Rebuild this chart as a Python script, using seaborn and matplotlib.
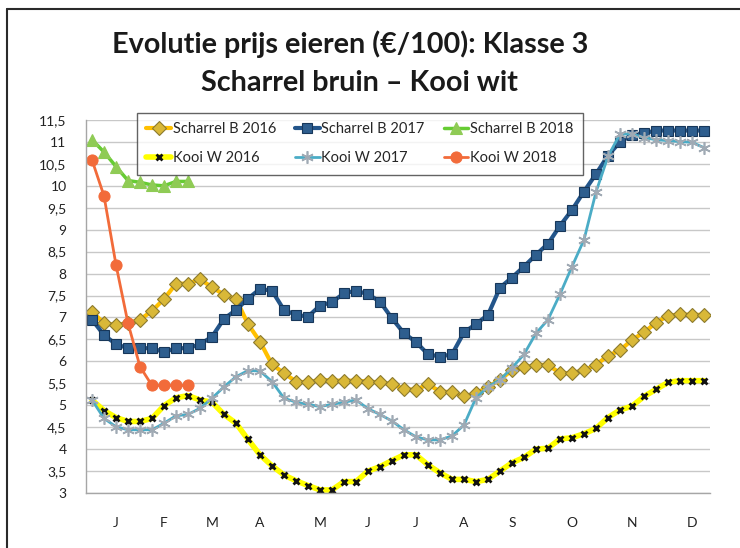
import matplotlib
matplotlib.use("Agg")
import matplotlib.pyplot as plt
from matplotlib.lines import Line2D
import seaborn as sns
import numpy as np

# ---- data ----
weeks = list(range(1, 53))
month_labels = ["J", "F", "M", "A", "M", "J", "J", "A", "S", "O", "N", "D"]
month_weeks = [3, 7, 11, 15, 20, 24, 28, 32, 36, 41, 46, 51]
y_ticks = [3, 3.5, 4, 4.5, 5, 5.5, 6, 6.5, 7, 7.5, 8, 8.5, 9, 9.5, 10, 10.5, 11, 11.5]

scharrel_b_2016 = [7.13, 6.87, 6.83, 6.87, 6.95, 7.15, 7.42, 7.77, 7.77, 7.87,
                   7.69, 7.52, 7.42, 6.85, 6.45, 5.93, 5.73, 5.54, 5.52, 5.58,
                   5.56, 5.56, 5.56, 5.54, 5.52, 5.48, 5.37, 5.35, 5.48, 5.31,
                   5.30, 5.20, 5.27, 5.42, 5.58, 5.80, 5.86, 5.92, 5.92, 5.73,
                   5.73, 5.80, 5.92, 6.13, 6.25, 6.49, 6.66, 6.88, 7.04, 7.07,
                   7.06, 7.06]
scharrel_b_2017 = [6.95, 6.60, 6.39, 6.30, 6.30, 6.30, 6.21, 6.30, 6.30, 6.39,
                   6.56, 6.97, 7.17, 7.43, 7.65, 7.61, 7.17, 7.06, 7.02, 7.27,
                   7.35, 7.55, 7.61, 7.53, 7.36, 6.98, 6.64, 6.44, 6.16, 6.11,
                   6.16, 6.66, 6.85, 7.06, 7.68, 7.91, 8.16, 8.43, 8.68, 9.09,
                   9.45, 9.87, 10.27, 10.69, 11.00, 11.16, 11.20, 11.26, 11.26, 11.26,
                   11.26, 11.26]
scharrel_b_2018 = [11.05, 10.77, 10.44, 10.12, 10.08, 10.02, 10.00, 10.10, 10.10]
kooi_w_2016 = [5.12, 4.88, 4.72, 4.63, 4.63, 4.70, 4.99, 5.17, 5.22, 5.12,
               5.07, 4.79, 4.59, 4.22, 3.87, 3.62, 3.41, 3.28, 3.17, 3.07,
               3.07, 3.26, 3.26, 3.50, 3.60, 3.74, 3.87, 3.87, 3.64, 3.46,
               3.31, 3.31, 3.26, 3.31, 3.50, 3.69, 3.81, 4.00, 4.02, 4.23,
               4.26, 4.35, 4.47, 4.72, 4.89, 4.98, 5.20, 5.36, 5.52, 5.56,
               5.56, 5.56]
kooi_w_2017 = [5.12, 4.70, 4.51, 4.44, 4.44, 4.44, 4.59, 4.76, 4.79, 4.93,
               5.16, 5.42, 5.65, 5.79, 5.78, 5.54, 5.16, 5.07, 5.02, 4.97,
               5.02, 5.07, 5.12, 4.92, 4.79, 4.64, 4.44, 4.28, 4.21, 4.21,
               4.30, 4.55, 5.17, 5.42, 5.58, 5.85, 6.16, 6.64, 6.95, 7.53,
               8.16, 8.77, 9.86, 10.67, 11.18, 11.18, 11.10, 11.05, 11.03, 11.01,
               10.99, 10.87]
kooi_w_2018 = [10.59, 9.77, 8.20, 6.87, 5.88, 5.45, 5.45, 5.45, 5.45]

# ---- style ----
sns.set_style("white")
plt.rcParams['font.family'] = ['Lato', 'DejaVu Sans']

fig = plt.figure(figsize=(7.4, 5.48), dpi=100)
W, H = 740, 548
ax = fig.add_axes([86 / W, 1 - 493 / H, (710 - 86) / W, (493 - 120) / H])

series = [
    ("Scharrel B 2016", weeks, scharrel_b_2016,
     dict(color="#FFC000", linewidth=3, marker="D", markersize=7,
          markerfacecolor="#D9B838", markeredgecolor="#8C7A2E", markeredgewidth=0.8)),
    ("Scharrel B 2017", weeks, scharrel_b_2017,
     dict(color="#23558A", linewidth=3, marker="s", markersize=7,
          markerfacecolor="#2E5E8E", markeredgecolor="#17375A", markeredgewidth=0.8)),
    ("Scharrel B 2018", weeks[:len(scharrel_b_2018)], scharrel_b_2018,
     dict(color="#66CC33", linewidth=2.5, marker="^", markersize=9,
          markerfacecolor="#8FCB55", markeredgecolor="#8FCB55", markeredgewidth=0.8)),
    ("Kooi W 2016", weeks, kooi_w_2016,
     dict(color="#FFFF00", linewidth=4, marker="x", markersize=5,
          markeredgecolor="#111111", markeredgewidth=2)),
    ("Kooi W 2017", weeks, kooi_w_2017,
     dict(color="#4BACC6", linewidth=2, marker=(6, 2, 0), markersize=9,
          markeredgecolor="#A0AAB4", markeredgewidth=1.2)),
    ("Kooi W 2018", weeks[:len(kooi_w_2018)], kooi_w_2018,
     dict(color="#F26B3A", linewidth=2, marker="o", markersize=8,
          markerfacecolor="#F26B3A", markeredgecolor="#F26B3A")),
]

for name, xs, ys, kw in series:
    sns.lineplot(x=xs, y=ys, ax=ax, label=name, **kw)

ax.set_xlim(0.5, 52.5)
ax.set_ylim(3, 11.5)
ax.set_yticks(y_ticks)
ax.set_yticklabels([("%g" % v).replace(".", ",") for v in y_ticks], fontsize=10, color="#222222")
ax.set_xticks(month_weeks)
ax.set_xticklabels(month_labels, fontsize=10, color="#222222")
ax.set_xticks(np.arange(0.5, 53, 1), minor=True)
ax.tick_params(axis="x", which="major", length=0, pad=17)
ax.tick_params(axis="x", which="minor", length=5, width=1, color="#A6A6A6", direction="out")
ax.tick_params(axis="y", which="major", length=5, width=1, color="#A6A6A6", direction="out", pad=9)
ax.grid(axis="y", color="#C8C8C8", linewidth=1)
ax.grid(axis="x", visible=False)
ax.set_axisbelow(True)
for s in ["top", "right"]:
    ax.spines[s].set_visible(False)
for s in ["left", "bottom"]:
    ax.spines[s].set_color("#A6A6A6")
    ax.spines[s].set_linewidth(1)
ax.set_xlabel("")
ax.set_ylabel("")

# legend in column-wise order (3 columns x 2 rows)
h, l = ax.get_legend_handles_labels()
order = ["Scharrel B 2016", "Kooi W 2016", "Scharrel B 2017", "Kooi W 2017",
         "Scharrel B 2018", "Kooi W 2018"]
hd = dict(zip(l, h))
leg = ax.legend([hd[o] for o in order], order, ncol=3, loc="upper left",
                bbox_to_anchor=(137 / W, 1 - 113 / H), bbox_transform=fig.transFigure,
                borderaxespad=0, frameon=True, fancybox=False, fontsize=10.5,
                handlelength=1.7, handletextpad=0.1, columnspacing=1.3,
                labelspacing=1.0, borderpad=0.65)
leg.get_frame().set_edgecolor("#3C3C3C")
leg.get_frame().set_linewidth(1)

# titles
fig.text(350 / W, 1 - 53 / H, "Evolutie prijs eieren (€/100): Klasse 3",
         ha="center", va="baseline", fontsize=20.7, fontweight="bold", color="#1A1A1A")
fig.text(359 / W, 1 - 91 / H, "Scharrel bruin – Kooi wit",
         ha="center", va="baseline", fontsize=20.7, fontweight="bold", color="#1A1A1A")

# outer frame (left & top visible)
fig.add_artist(Line2D([7 / W, 7 / W], [0, 1 - 9 / H], transform=fig.transFigure,
                      color="#2A2A2A", linewidth=1.5))
fig.add_artist(Line2D([7 / W, 1], [1 - 9 / H, 1 - 9 / H], transform=fig.transFigure,
                      color="#2A2A2A", linewidth=1.5))

fig.savefig("out.png", dpi=100)
